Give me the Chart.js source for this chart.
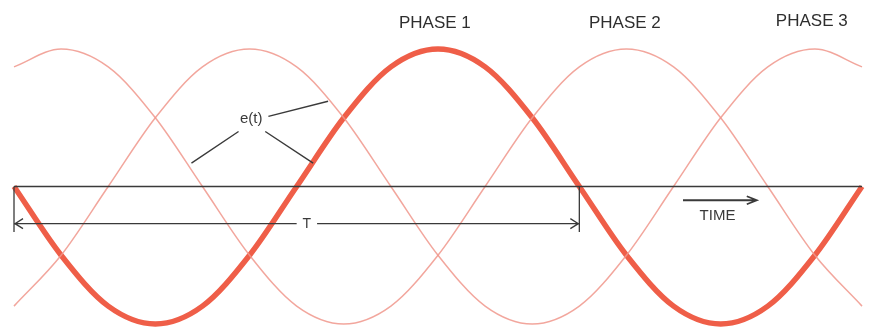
<!DOCTYPE html>
<html>
<head>
<meta charset="utf-8">
<script src="https://cdn.jsdelivr.net/npm/chart.js@4"></script>
<style>
  html, body { margin: 0; padding: 0; background: #fff; }
  #wrap { width: 870px; height: 331px; }
</style>
</head>
<body>
<div id="wrap"><canvas id="myChart" width="870" height="331"></canvas></div>
<script>
// electrical angle in degrees along the time axis
const angles = [0, 30, 60, 90, 120, 150, 180, 210, 240, 270, 300, 330, 360, 390, 420, 450, 480, 510, 540];

// normalised voltage (peak = 1)
const phase1 = [0, -0.5, -0.87, -1, -0.87, -0.5, 0, 0.5, 0.87, 1, 0.87, 0.5, 0, -0.5, -0.87, -1, -0.87, -0.5, 0];
const phase2 = [0.87, 1, 0.87, 0.5, 0, -0.5, -0.87, -1, -0.87, -0.5, 0, 0.5, 0.87, 1, 0.87, 0.5, 0, -0.5, -0.87];
const phase3 = [-0.87, -0.5, 0, 0.5, 0.87, 1, 0.87, 0.5, 0, -0.5, -0.87, -1, -0.87, -0.5, 0, 0.5, 0.87, 1, 0.87];

// labels and where they sit (angle, value)
const phaseLabels = ['PHASE 1', 'PHASE 2', 'PHASE 3'];
const phaseLabelAt = [[268, 1.19], [389, 1.19], [508, 1.2]];
const periodLabel = 'T';
const timeLabel = 'TIME';
const emfLabel = 'e(t)';

const toPoints = vals => vals.map((v, i) => ({ x: angles[i], y: v }));

// Draws the zero line, the period arrow, TIME arrow and the labels
const annotations = {
    id: 'annotations',
    afterDatasetsDraw(chart) {
        const ctx = chart.ctx;
        const xs = chart.scales.x, ys = chart.scales.y;
        const px = v => xs.getPixelForValue(v);
        const py = v => ys.getPixelForValue(v);
        const ink = '#3a3a3a';

        ctx.save();
        ctx.strokeStyle = ink;
        ctx.fillStyle = ink;
        ctx.lineCap = 'butt';

        // zero line
        ctx.lineWidth = 1.6;
        ctx.beginPath();
        ctx.moveTo(px(0), py(0));
        ctx.lineTo(px(540), py(0));
        ctx.stroke();

        // period ticks and arrow
        ctx.lineWidth = 1.3;
        ctx.beginPath();
        ctx.moveTo(px(0), py(0));
        ctx.lineTo(px(0), py(-0.33));
        ctx.moveTo(px(360), py(0));
        ctx.lineTo(px(360), py(-0.33));
        const ay = py(-0.27);
        ctx.moveTo(px(0), ay);
        ctx.lineTo(px(180), ay);
        ctx.moveTo(px(193), ay);
        ctx.lineTo(px(360), ay);
        // arrow heads
        ctx.moveTo(px(0) + 9, ay - 5);
        ctx.lineTo(px(0) + 1, ay);
        ctx.lineTo(px(0) + 9, ay + 5);
        ctx.moveTo(px(360) - 9, ay - 5);
        ctx.lineTo(px(360) - 1, ay);
        ctx.lineTo(px(360) - 9, ay + 5);
        ctx.stroke();

        ctx.textAlign = 'center';
        ctx.textBaseline = 'middle';
        ctx.font = '14px "Liberation Sans", Arial, sans-serif';
        ctx.fillText(periodLabel, px(186.5), ay + 1);

        // TIME arrow
        const ty = py(-0.1);
        ctx.lineWidth = 1.8;
        ctx.beginPath();
        ctx.moveTo(px(426), ty);
        ctx.lineTo(px(473), ty);
        ctx.moveTo(px(473) - 10, ty - 4);
        ctx.lineTo(px(473), ty);
        ctx.lineTo(px(473) - 10, ty + 4);
        ctx.stroke();
        ctx.font = '15px "Liberation Sans", Arial, sans-serif';
        ctx.fillText(timeLabel, px(448), py(-0.21));

        // e(t) with leader lines to each curve
        ctx.font = '15px "Liberation Sans", Arial, sans-serif';
        ctx.fillText(emfLabel, px(151), py(0.49));
        ctx.lineWidth = 1.4;
        ctx.beginPath();
        ctx.moveTo(px(162), py(0.51));
        ctx.lineTo(px(200), py(0.62));
        ctx.moveTo(px(143), py(0.40));
        ctx.lineTo(px(113), py(0.17));
        ctx.moveTo(px(160), py(0.40));
        ctx.lineTo(px(190.5), py(0.17));
        ctx.stroke();

        // phase labels
        ctx.font = '17px "Liberation Sans", Arial, sans-serif';
        ctx.fillStyle = '#2e2e2e';
        phaseLabels.forEach((lbl, i) => {
            ctx.fillText(lbl, px(phaseLabelAt[i][0]), py(phaseLabelAt[i][1]));
        });
        ctx.restore();
    }
};

const thin = 'rgba(240, 150, 140, 0.85)';

var ctx = document.getElementById('myChart').getContext('2d');
var myChart = new Chart(ctx, {
    type: 'line',
    data: {
        datasets: [
            { label: 'Phase 2', data: toPoints(phase2), borderColor: thin, borderWidth: 1.5, pointRadius: 0, cubicInterpolationMode: 'monotone', clip: 4 },
            { label: 'Phase 3', data: toPoints(phase3), borderColor: thin, borderWidth: 1.5, pointRadius: 0, cubicInterpolationMode: 'monotone', clip: 4 },
            { label: 'Phase 1', data: toPoints(phase1), borderColor: '#ef5e48', borderWidth: 5.5, pointRadius: 0, cubicInterpolationMode: 'monotone', clip: 6 }
        ]
    },
    options: {
        responsive: false,
        animation: false,
        devicePixelRatio: 1,
        layout: { padding: { top: 49, bottom: 7, left: 14, right: 8 } },
        plugins: { legend: { display: false }, tooltip: { enabled: false } },
        scales: {
            x: { type: 'linear', min: 0, max: 540, display: false },
            y: { min: -1, max: 1, display: false }
        }
    },
    plugins: [annotations]
});
</script>
</body>
</html>
